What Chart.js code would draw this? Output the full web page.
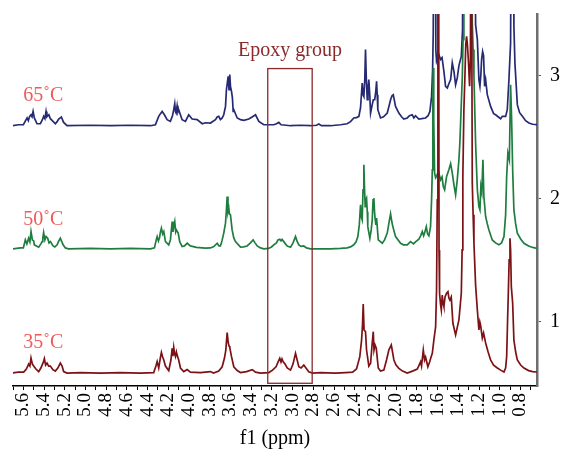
<!DOCTYPE html>
<html>
<head>
<meta charset="utf-8">
<script src="https://cdn.jsdelivr.net/npm/chart.js@4.4.1/dist/chart.umd.min.js"></script>
<style>
  html, body { margin: 0; padding: 0; background: #fff; }
  #wrap { width: 562px; height: 451px; }
</style>
</head>
<body>
<div id="wrap"><canvas id="chart" width="562" height="451"></canvas></div>
<script>
// ===== data (ppm, intensity above each trace's baseline) =====
const spec35 = [
  [5.706,0],[5.648,0.008],[5.597,0.008],[5.571,0.033],[5.549,0.073],[5.537,0.057],[5.526,0.122],[5.513,0.073],[5.500,0.057],[5.479,0.033],[5.452,0.012],[5.431,0.041],[5.419,0.065],[5.407,0.089],[5.397,0.118],[5.385,0.065],[5.371,0.081],[5.356,0.057],[5.339,0.057],[5.315,0.028],[5.291,0.016],[5.267,0.041],[5.243,0.081],[5.226,0.057],[5.211,0.012],[5.178,0],
  [5.049,0.004],[4.856,0],[4.663,0.004],[4.470,0],[4.341,0.004],
  [4.320,0.057],[4.308,0.093],[4.293,0.041],[4.276,0.130],[4.267,0.167],[4.255,0.130],[4.244,0.106],[4.228,0.057],[4.196,0.020],[4.175,0.106],[4.163,0.201],[4.156,0.138],[4.148,0.209],[4.139,0.154],[4.131,0.133],[4.122,0.171],[4.115,0.146],[4.100,0.106],[4.083,0.041],[4.051,0.012],[4.018,0.028],[3.987,0.008],[3.890,0.004],[3.793,0.012],[3.764,0],
  [3.713,0.016],[3.680,0.051],[3.658,0.122],[3.645,0.187],[3.632,0.328],[3.621,0.244],[3.614,0.220],[3.607,0.209],[3.590,0.133],[3.568,0.051],[3.535,0.020],[3.503,0.004],[3.445,0.012],[3.390,0.028],[3.358,0.008],[3.310,0],
  [3.230,0.004],[3.194,0.024],[3.160,0.051],[3.141,0.089],[3.124,0.120],[3.112,0.089],[3.102,0.114],[3.091,0.092],[3.073,0.073],[3.052,0.041],[3.020,0.024],[2.996,0.073],[2.972,0.160],[2.956,0.106],[2.940,0.051],[2.919,0.041],[2.892,0.065],[2.871,0.041],[2.844,0.011],[2.808,0],
  [2.730,0.004],[2.586,0],[2.489,0.004],[2.421,0.008],[2.383,0.033],[2.351,0.133],[2.334,0.268],[2.325,0.390],[2.318,0.561],[2.310,0.350],[2.302,0.350],[2.296,0.336],[2.286,0.187],[2.264,0.057],[2.247,0.079],[2.233,0.228],[2.221,0.336],[2.214,0.187],[2.204,0.228],[2.192,0.201],[2.173,0.041],[2.151,0.016],[2.119,0.024],[2.093,0.106],[2.071,0.187],[2.047,0.228],[2.035,0.171],[2.022,0.106],[2.001,0.065],[1.974,0.038],[1.938,0.016],[1.893,0],
  [1.842,0.016],[1.796,0.033],[1.774,0.073],[1.764,0.092],[1.755,0.057],[1.738,0.187],[1.726,0.106],[1.716,0.130],[1.694,0.051],[1.677,0.089],[1.663,0.130],[1.651,0.160],[1.636,0.268],[1.619,0.376],[1.610,0.675],[1.603,1.407],[1.597,4.5],[1.591,4.5],[1.586,1.0],[1.581,0.648],[1.571,0.553],[1.564,0.512],[1.555,0.634],[1.547,0.569],[1.539,0.539],[1.528,0.618],[1.513,0.648],[1.500,0.661],[1.491,0.610],[1.481,0.593],[1.468,0.618],[1.452,0.404],[1.426,0.309],[1.394,0.431],[1.371,0.648],[1.363,1.0],[1.356,1.596],[1.346,2.138],[1.336,2.409],[1.328,2.667],[1.320,2.734],[1.312,2.667],[1.303,2.545],[1.291,2.328],[1.283,2.545],[1.276,4.5],[1.269,4.5],[1.265,1.545],[1.257,1.285],[1.249,1.057],[1.233,0.715],[1.216,0.512],[1.201,0.350],[1.192,0.415],[1.185,0.390],[1.168,0.285],[1.156,0.325],[1.136,0.244],[1.112,0.171],[1.088,0.106],[1.059,0.065],[1.023,0.041],[0.991,0.024],[0.959,0.008],[0.943,0.041],[0.933,0.133],[0.924,0.431],[0.917,0.648],[0.909,0.919],[0.901,1.095],[0.895,1.0],[0.888,0.702],[0.875,0.567],[0.863,0.268],[0.846,0.171],[0.830,0.106],[0.798,0.065],[0.766,0.041],[0.721,0.020],[0.682,0.012],[0.634,0.008]
];
const spec50 = [
  [5.706,0],[5.629,0.008],[5.600,0.008],[5.581,0.073],[5.566,0.041],[5.549,0.087],[5.537,0.057],[5.526,0.141],[5.513,0.073],[5.500,0.065],[5.494,0.033],[5.474,0.024],[5.452,0.014],[5.431,0.041],[5.419,0.059],[5.412,0.089],[5.404,0.133],[5.392,0.073],[5.381,0.100],[5.365,0.087],[5.352,0.049],[5.339,0.059],[5.313,0.024],[5.296,0.016],[5.274,0.033],[5.257,0.065],[5.243,0.087],[5.228,0.057],[5.216,0.033],[5.194,0.008],[5.165,0],
  [4.953,0.004],[4.759,0],[4.566,0.004],[4.373,0],[4.334,0.008],
  [4.317,0.073],[4.308,0.100],[4.296,0.065],[4.286,0.089],[4.276,0.138],[4.267,0.168],[4.255,0.122],[4.244,0.141],[4.228,0.059],[4.196,0.033],[4.180,0.073],[4.163,0.222],[4.156,0.138],[4.148,0.181],[4.138,0.222],[4.129,0.138],[4.122,0.154],[4.105,0.128],[4.090,0.059],[4.067,0.019],[4.044,0.024],[4.018,0.046],[3.987,0.024],[3.929,0.012],[3.842,0.006],[3.793,0.008],[3.761,0.019],[3.728,0.046],[3.711,0.024],[3.697,0.024],[3.682,0.065],[3.665,0.128],[3.648,0.209],[3.639,0.317],[3.632,0.425],[3.624,0.301],[3.616,0.331],[3.610,0.285],[3.600,0.276],[3.584,0.154],[3.568,0.089],[3.552,0.059],[3.503,0.014],[3.474,0.016],[3.439,0.024],[3.407,0.049],[3.381,0.073],[3.363,0.049],[3.342,0.024],[3.310,0.008],[3.278,0],
  [3.233,0.004],[3.204,0.016],[3.182,0.033],[3.156,0.049],[3.141,0.073],[3.124,0.079],[3.112,0.065],[3.102,0.077],[3.085,0.059],[3.069,0.041],[3.052,0.024],[3.020,0.014],[2.996,0.049],[2.972,0.100],[2.958,0.065],[2.940,0.033],[2.919,0.020],[2.892,0.024],[2.866,0.008],[2.827,0],
  [2.731,0],[2.634,0],[2.537,0.004],[2.473,0.008],[2.441,0.016],[2.409,0.033],[2.387,0.057],[2.370,0.100],[2.356,0.195],[2.344,0.358],[2.334,0.252],[2.328,0.236],[2.320,0.480],[2.312,0.683],[2.305,0.480],[2.299,0.344],[2.293,0.398],[2.286,0.412],[2.279,0.301],[2.274,0.181],[2.254,0.087],[2.241,0.154],[2.231,0.236],[2.223,0.398],[2.215,0.412],[2.209,0.301],[2.202,0.236],[2.196,0.195],[2.189,0.250],[2.173,0.073],[2.134,0.046],[2.112,0.073],[2.086,0.128],[2.068,0.220],[2.054,0.285],[2.042,0.220],[2.032,0.181],[2.006,0.100],[1.957,0.046],[1.929,0.033],[1.893,0.033],[1.861,0.059],[1.832,0.041],[1.813,0.057],[1.781,0.079],[1.764,0.106],[1.748,0.141],[1.735,0.106],[1.726,0.128],[1.709,0.181],[1.697,0.122],[1.684,0.106],[1.668,0.181],[1.658,0.398],[1.651,0.642],[1.646,1.130],[1.642,1.469],[1.637,1.049],[1.629,0.616],[1.619,0.577],[1.610,0.588],[1.592,0.634],[1.581,0.593],[1.571,0.561],[1.557,0.585],[1.545,0.507],[1.532,0.480],[1.513,0.588],[1.491,0.642],[1.474,0.691],[1.458,0.616],[1.442,0.520],[1.426,0.439],[1.410,0.561],[1.394,0.724],[1.385,0.859],[1.373,1.130],[1.361,1.401],[1.354,1.699],[1.346,3.5],[1.276,3.5],[1.265,1.835],[1.257,1.618],[1.249,1.401],[1.241,1.130],[1.233,0.859],[1.216,0.480],[1.201,0.344],[1.191,0.317],[1.182,0.507],[1.173,0.463],[1.162,0.724],[1.153,0.425],[1.136,0.263],[1.120,0.203],[1.104,0.154],[1.072,0.073],[1.040,0.049],[1.008,0.033],[0.982,0.049],[0.959,0.100],[0.943,0.276],[0.933,0.588],[0.921,0.778],[0.907,0.724],[0.895,1.333],[0.885,1.049],[0.875,0.642],[0.863,0.317],[0.846,0.203],[0.830,0.128],[0.798,0.081],[0.766,0.046],[0.721,0.024],[0.682,0.012],[0.634,0.004]
];
const spec65 = [
  [5.706,0],[5.648,0.008],[5.600,0.008],[5.564,0.063],[5.552,0.041],[5.539,0.076],[5.526,0.089],[5.516,0.073],[5.506,0.116],[5.494,0.063],[5.468,0.016],[5.436,0.016],[5.416,0.049],[5.404,0.076],[5.392,0.057],[5.381,0.116],[5.373,0.073],[5.365,0.081],[5.354,0.089],[5.339,0.057],[5.323,0.043],[5.291,0.016],[5.274,0.033],[5.259,0.054],[5.233,0.071],[5.211,0.027],[5.178,0],
  [4.953,0.004],[4.759,0],[4.566,0.004],[4.373,0],[4.325,0.008],
  [4.293,0.076],[4.276,0.098],[4.260,0.116],[4.238,0.089],[4.212,0.049],[4.180,0.035],[4.160,0.081],[4.148,0.130],[4.138,0.179],[4.131,0.114],[4.125,0.103],[4.115,0.163],[4.107,0.114],[4.100,0.130],[4.083,0.089],[4.067,0.049],[4.035,0.035],[4.003,0.089],[3.970,0.054],[3.922,0.049],[3.873,0.016],[3.842,0.024],[3.793,0.022],[3.745,0.049],[3.728,0.071],[3.713,0.076],[3.697,0.049],[3.680,0.063],[3.665,0.089],[3.648,0.157],[3.639,0.293],[3.622,0.401],[3.614,0.293],[3.607,0.415],[3.600,0.320],[3.590,0.279],[3.581,0.225],[3.574,0.116],[3.568,0.130],[3.535,0.063],[3.503,0.049],[3.471,0.043],[3.423,0.054],[3.387,0.073],[3.358,0.089],[3.326,0.035],[3.278,0.008],
  [3.181,0.008],[3.156,0.016],[3.133,0.027],[3.112,0.008],[3.085,0.006],[3.020,0],[2.924,0.004],[2.827,0],[2.769,0.004],[2.747,0.014],[2.721,0],[2.634,0],
  [2.537,0.008],[2.473,0.016],[2.441,0.033],[2.409,0.063],[2.383,0.065],[2.360,0.076],[2.344,0.146],[2.328,0.347],[2.320,0.252],[2.312,0.238],[2.303,0.374],[2.296,0.618],[2.288,0.374],[2.279,0.211],[2.272,0.293],[2.264,0.374],[2.255,0.252],[2.247,0.103],[2.233,0.163],[2.221,0.211],[2.207,0.211],[2.197,0.276],[2.189,0.360],[2.183,0.252],[2.177,0.130],[2.151,0.063],[2.122,0.073],[2.086,0.103],[2.068,0.163],[2.054,0.211],[2.040,0.244],[2.028,0.252],[2.015,0.195],[2.006,0.157],[1.974,0.103],[1.948,0.073],[1.926,0.054],[1.893,0.063],[1.871,0.081],[1.845,0.089],[1.829,0.063],[1.813,0.081],[1.781,0.054],[1.755,0.057],[1.716,0.063],[1.692,0.081],[1.674,0.116],[1.658,0.238],[1.648,0.455],[1.642,0.754],[1.634,2.5],[1.624,2.5],[1.617,0.618],[1.610,0.524],[1.598,0.553],[1.588,0.577],[1.571,0.537],[1.557,0.553],[1.539,0.442],[1.523,0.320],[1.506,0.307],[1.491,0.341],[1.474,0.374],[1.458,0.510],[1.442,0.442],[1.426,0.333],[1.410,0.388],[1.394,0.488],[1.371,0.563],[1.359,0.780],[1.352,2.5],[1.243,2.5],[1.233,0.821],[1.216,0.699],[1.201,0.374],[1.191,0.320],[1.182,0.415],[1.175,0.537],[1.165,0.602],[1.156,0.569],[1.146,0.320],[1.136,0.374],[1.120,0.252],[1.088,0.157],[1.059,0.098],[1.040,0.089],[0.991,0.057],[0.975,0.076],[0.943,0.076],[0.927,0.130],[0.911,0.374],[0.895,0.672],[0.885,2.5],[0.869,2.5],[0.863,0.807],[0.853,0.506],[0.830,0.171],[0.808,0.106],[0.781,0.076],[0.750,0.041],[0.718,0.022],[0.682,0.012],[0.634,0.008]
];

// stacking offsets of the three traces
const baselines = [0.585, 1.593, 2.593];
const tempNames = ["35˚C", "50˚C", "65˚C"];
const tempLabelY = [0.789, 1.789, 2.797];
const tempLabelX = 5.6;

// epoxy window
const epoxyRange = [3.240, 2.811];
const epoxyTop = 3.057, epoxyBottom = 0.502, epoxyLabelY = 3.163;

// axes
const X_MIN = 0.64, X_MAX = 5.70;
const Y_MIN = 0.48, Y_MAX = 3.50;
const xTicks = [5.7,5.6,5.5,5.4,5.3,5.2,5.1,5.0,4.9,4.8,4.7,4.6,4.5,4.4,4.3,4.2,4.1,4.0,3.9,3.8,3.7,3.6,3.5,3.4,3.3,3.2,3.1,3.0,2.9,2.8,2.7,2.6,2.5,2.4,2.3,2.2,2.1,2.0,1.9,1.8,1.7,1.6,1.5,1.4,1.3,1.2,1.1,1.0,0.9,0.8,0.7];
const xLabels = ["5.6","5.4","5.2","5.0","4.8","4.6","4.4","4.2","4.0","3.8","3.6","3.4","3.2","3.0","2.8","2.6","2.4","2.2","2.0","1.8","1.6","1.4","1.2","1.0","0.8"];
const yTicks = [1, 2, 3];

const colors = ["#7c1215", "#1f7d40", "#252a72"];
const FONT = "'Liberation Serif', 'Times New Roman', serif";

// ===== helpers =====
function toPoints(spec, base) {
  return spec.map(p => ({ x: p[0], y: p[1] + base }));
}

const annotations = {
  id: "annotations",
  afterDatasetsDraw(chart) {
    const { ctx, scales: { x, y } } = chart;
    ctx.save();
    const x1 = x.getPixelForValue(epoxyRange[0]);
    const x2 = x.getPixelForValue(epoxyRange[1]);
    const yt = y.getPixelForValue(epoxyTop);
    const yb = y.getPixelForValue(epoxyBottom);
    ctx.strokeStyle = "#8a2a2a";
    ctx.lineWidth = 1.3;
    ctx.strokeRect(x1, yt, x2 - x1, yb - yt);

    ctx.font = "20px " + FONT;
    ctx.textBaseline = "alphabetic";
    ctx.fillStyle = "#8a2a2a";
    ctx.textAlign = "center";
    ctx.fillText("Epoxy group", (x1 + x2) / 2, y.getPixelForValue(epoxyLabelY));

    ctx.fillStyle = "#f05a5a";
    ctx.textAlign = "left";
    tempNames.forEach((t, i) => {
      ctx.fillText(t, x.getPixelForValue(tempLabelX), y.getPixelForValue(tempLabelY[i]));
    });
    ctx.restore();
  }
};

// ===== chart =====
const ctx = document.getElementById("chart").getContext("2d");
const specs = [spec35, spec50, spec65];

new Chart(ctx, {
  type: "line",
  data: {
    datasets: specs.map((s, i) => ({
      label: tempNames[i],
      data: toPoints(s, baselines[i]),
      borderColor: colors[i],
      borderWidth: 1.7,
      pointRadius: 0,
      tension: 0,
      fill: false
    }))
  },
  options: {
    responsive: false,
    animation: false,
    devicePixelRatio: 1,
    layout: { padding: { left: 13, top: 14, right: 0, bottom: 0 } },
    plugins: { legend: { display: false }, tooltip: { enabled: false } },
    scales: {
      x: {
        type: "linear",
        reverse: true,
        min: X_MIN,
        max: X_MAX,
        afterBuildTicks: s => { s.ticks = xTicks.map(v => ({ value: v })); },
        afterFit: s => { s.height = 65; s.paddingLeft = 0; s.paddingRight = 0; },
        grid: { display: true, drawOnChartArea: false, drawTicks: true, tickLength: 4, color: "#000", lineWidth: 1 },
        border: { display: true, color: "#000", width: 1.5 },
        ticks: {
          autoSkip: false,
          minRotation: 90,
          maxRotation: 90,
          padding: 3,
          color: "#000",
          font: { family: FONT, size: 19 },
          callback: v => {
            const t = Number(v).toFixed(1);
            return xLabels.includes(t) ? t : "";
          }
        },
        title: { display: true, text: "f1 (ppm)", color: "#000", font: { family: FONT, size: 20 }, padding: { top: 0, bottom: 0 } }
      },
      y: {
        type: "linear",
        position: "right",
        min: Y_MIN,
        max: Y_MAX,
        afterBuildTicks: s => { s.ticks = yTicks.map(v => ({ value: v })); },
        afterFit: s => { s.width = 25; s.paddingTop = 0; s.paddingBottom = 0; },
        grid: { display: true, drawOnChartArea: false, tickLength: 4, color: "#555" },
        border: { display: true, color: "#6e6e6e", width: 2.5 },
        ticks: { padding: 9, color: "#000", font: { family: FONT, size: 20 } }
      }
    }
  },
  plugins: [annotations]
});
</script>
</body>
</html>
